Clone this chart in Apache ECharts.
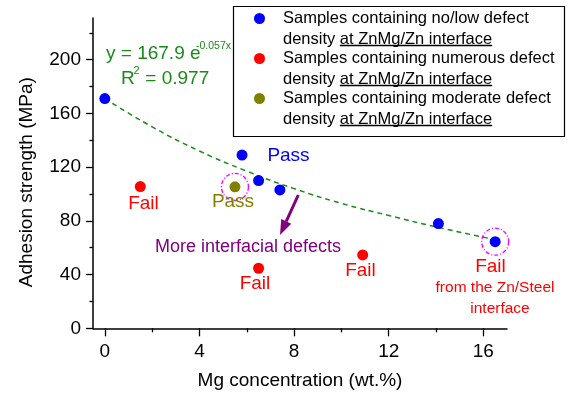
<!DOCTYPE html>
<html><head><meta charset="utf-8">
<script src="https://cdn.jsdelivr.net/npm/echarts@6/dist/echarts.min.js"></script>
<style>html,body{margin:0;padding:0;background:#fff}#c{width:569px;height:399px}</style>
</head><body><div id="c"></div>
<script>
// ---- data ----
const blueX = [0, 5.8, 6.5, 7.4, 14.1, 16.5];
const blueY = [171, 129, 110, 103, 78, 64.5];
const redX = [1.5, 6.5, 10.9];
const redY = [105.5, 44.7, 54.6];
const oliveX = [5.5];
const oliveY = [105.3];
const fitX = [0, 2, 4, 6, 8, 10, 12, 14, 16.5];
const fitY = [171, 150, 132, 117, 104, 93, 84, 75.5, 66];
const xTicks = [0, 4, 8, 12, 16];
const xMinor = [2, 6, 10, 14];
const yTicks = [0, 40, 80, 120, 160, 200];
const yMinor = [20, 60, 100, 140, 180, 220];
const legendNames = [
  'Samples containing no/low defect',
  'Samples containing numerous defect',
  'Samples containing moderate defect'
];
const legendLine2a = 'density ';
const legendLine2b = 'at ZnMg/Zn interface';

const FONT = "'Liberation Sans', Arial, Helvetica, sans-serif";
const BLUE = '#0000ff', RED = '#ff0000', OLIVE = '#808000', PURPLE = '#800080', GREEN = '#1a8a1a', MAG = '#ff00ff';

function zip(a, b) { return a.map((v, i) => [v, b[i]]); }

const chart = echarts.init(document.getElementById('c'), null, {renderer: 'canvas'});

const axisBase = {
  axisLine: {show: true, onZero: false, lineStyle: {color: '#000', width: 1.5}},
  splitLine: {show: false},
};

// text measurement for underline
const ctx = document.createElement('canvas').getContext('2d');
ctx.font = '16.5px ' + FONT;
const wA = ctx.measureText(legendLine2a).width;
const wB = ctx.measureText(legendLine2b).width;

const legendColors = [BLUE, RED, OLIVE];
const legendGraphics = [{
  type: 'rect', shape: {x: 233.5, y: 6.5, width: 331, height: 130},
  style: {fill: '#fff', stroke: '#000', lineWidth: 1.2}, z: 10
}];
legendNames.forEach((n, i) => {
  const y0 = 18.5 + i * 40;
  legendGraphics.push({type: 'circle', shape: {cx: 259.5, cy: y0, r: 5.5}, style: {fill: legendColors[i]}, z: 11});
  legendGraphics.push({type: 'text', x: 283, y: y0, style: {text: n, font: '16.5px ' + FONT, fill: '#000', verticalAlign: 'middle'}, z: 11});
  legendGraphics.push({type: 'text', x: 283, y: y0 + 20.5, style: {text: legendLine2a + legendLine2b, font: '16.5px ' + FONT, fill: '#000', verticalAlign: 'middle'}, z: 11});
  legendGraphics.push({type: 'line', shape: {x1: 283 + wA, y1: y0 + 27, x2: 283 + wA + wB, y2: y0 + 27}, style: {stroke: '#000', lineWidth: 1.6}, z: 11});
});

function txt(t, x, y, color, size, align) {
  return {type: 'text', x: x, y: y, style: {text: t, font: size + 'px ' + FONT, fill: color, align: align || 'center', verticalAlign: 'middle'}, z: 12};
}

// arrow
const tip = [280, 235], tail = [298.3, 195];
const dx = tip[0] - tail[0], dy = tip[1] - tail[1], L = Math.hypot(dx, dy);
const ux = dx / L, uy = dy / L, px = -uy, py = ux;
const hb = [tip[0] - 15 * ux, tip[1] - 15 * uy];

const graphics = legendGraphics.concat([
  txt('y = 167.9 e', 106, 54, GREEN, 19, 'left'),
  txt('-0.057x', 196, 46, GREEN, 10.5, 'left'),
  txt('R', 121, 79, GREEN, 19, 'left'),
  txt('2', 133.5, 71, GREEN, 11, 'left'),
  txt(' = 0.977', 140, 79, GREEN, 19, 'left'),
  txt('Pass', 288.5, 155.5, BLUE, 19),
  txt('Fail', 143.5, 204, RED, 19),
  txt('Pass', 233, 202, OLIVE, 19),
  txt('More interfacial defects', 248, 247, PURPLE, 18),
  txt('Fail', 255, 284, RED, 19),
  txt('Fail', 360.5, 271, RED, 19),
  txt('Fail', 490.5, 267, RED, 19),
  txt('from the Zn/Steel', 495, 287.5, RED, 15.5),
  txt('interface', 500, 309, RED, 15.5),
  {type: 'line', shape: {x1: tail[0], y1: tail[1], x2: hb[0], y2: hb[1]}, style: {stroke: PURPLE, lineWidth: 3}, z: 12},
  {type: 'polygon', shape: {points: [tip, [hb[0] + 5.5 * px, hb[1] + 5.5 * py], [hb[0] - 5.5 * px, hb[1] - 5.5 * py]]}, style: {fill: PURPLE}, z: 12}
]);

const option = {
  animation: false,
  backgroundColor: '#fff',
  textStyle: {fontFamily: FONT},
  grid: {left: 93, right: 62, top: 18, bottom: 70.7, containLabel: false},
  xAxis: [
    Object.assign({}, axisBase, {
      type: 'value', min: -0.5, max: 17,
      name: 'Mg concentration (wt.%)', nameLocation: 'middle', nameGap: 43,
      nameTextStyle: {fontSize: 19, color: '#000', fontFamily: FONT},
      axisTick: {show: true, length: 8, lineStyle: {color: '#000', width: 1.3}, customValues: xTicks},
      axisLabel: {show: true, fontSize: 19, color: '#000', margin: 14, fontFamily: FONT, customValues: xTicks}
    }),
    {
      type: 'value', min: -0.5, max: 17, position: 'bottom',
      axisLine: {show: false, onZero: false}, splitLine: {show: false},
      axisTick: {show: true, length: 4, lineStyle: {color: '#000', width: 1.3}, customValues: xMinor},
      axisLabel: {show: false}
    }
  ],
  yAxis: [
    Object.assign({}, axisBase, {
      type: 'value', min: 0, max: 231,
      name: 'Adhesion strength (MPa)', nameLocation: 'middle', nameGap: 57,
      nameTextStyle: {fontSize: 19, color: '#000', fontFamily: FONT, padding: [0, 18, 0, 0]},
      axisTick: {show: true, length: 7, lineStyle: {color: '#000', width: 1.3}, customValues: yTicks},
      axisLabel: {show: true, fontSize: 19, color: '#000', margin: 12, fontFamily: FONT, customValues: yTicks}
    }),
    {
      type: 'value', min: 0, max: 231, position: 'left',
      axisLine: {show: false, onZero: false}, splitLine: {show: false},
      axisTick: {show: true, length: 3.5, lineStyle: {color: '#000', width: 1.3}, customValues: yMinor},
      axisLabel: {show: false}
    }
  ],
  graphic: graphics,
  series: [
    {
      name: 'fit', type: 'line', data: zip(fitX, fitY), smooth: true, symbol: 'none',
      lineStyle: {color: '#1a8a1a', width: 1.5, type: [5, 4]}, z: 2
    },
    {
      name: legendNames[0], type: 'scatter', data: zip(blueX, blueY), symbolSize: 11,
      itemStyle: {color: BLUE, opacity: 1}, z: 5
    },
    {
      name: legendNames[1], type: 'scatter', data: zip(redX, redY), symbolSize: 11,
      itemStyle: {color: RED, opacity: 1}, z: 5
    },
    {
      name: legendNames[2], type: 'scatter', data: zip(oliveX, oliveY), symbolSize: 11,
      itemStyle: {color: OLIVE, opacity: 1}, z: 5
    },
    {
      name: 'highlight', type: 'scatter',
      data: [[oliveX[0], oliveY[0]], [blueX[5], blueY[5]]], symbolSize: 27,
      itemStyle: {color: 'rgba(0,0,0,0)', borderColor: MAG, borderWidth: 1.4, borderType: [4, 2, 1, 2], opacity: 1}, z: 4,
      silent: true
    }
  ]
};
chart.setOption(option);
</script>
</body></html>
